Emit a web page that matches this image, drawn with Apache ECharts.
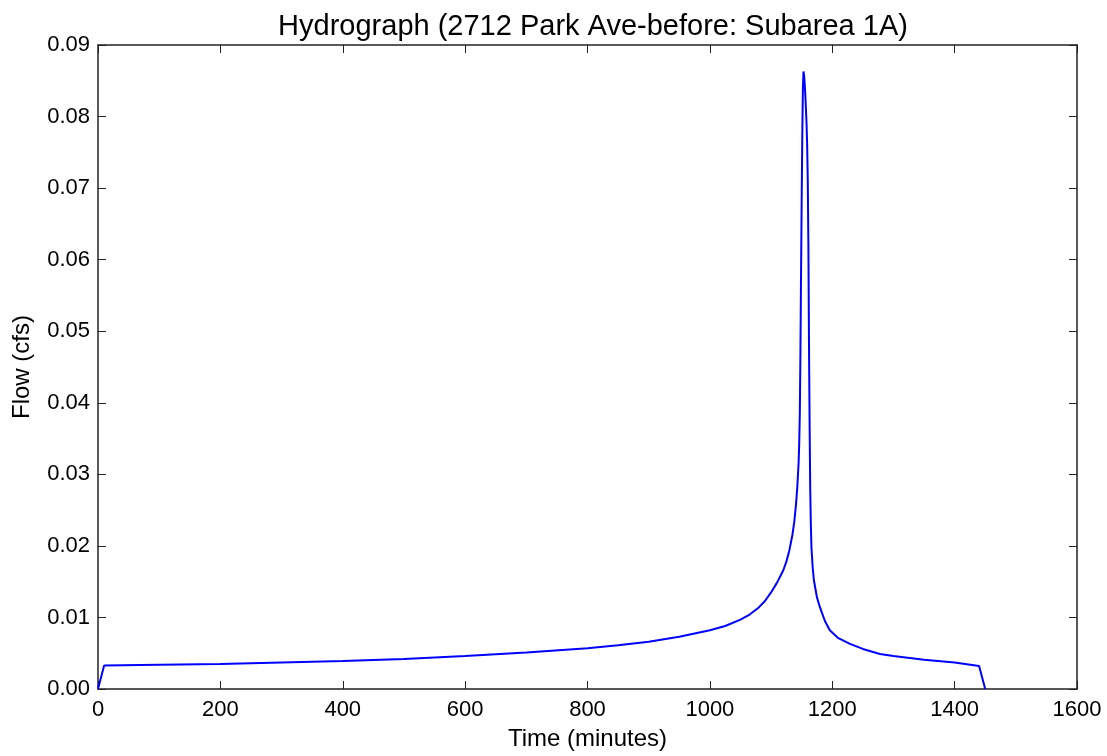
<!DOCTYPE html>
<html>
<head>
<meta charset="utf-8">
<script src="https://cdn.jsdelivr.net/npm/echarts@6/dist/echarts.min.js"></script>
<style>
html,body{margin:0;padding:0;background:#fff;}
#chart{width:1107px;height:756px;}
</style>
</head>
<body>
<div id="chart"></div>
<script>
var times = [0, 10, 100, 200, 300, 400, 500, 600, 700, 800, 850, 900, 950, 1000, 1025, 1050, 1065, 1080, 1090, 1100, 1110, 1120, 1125, 1130, 1135, 1138, 1141, 1143, 1145, 1146, 1147, 1148, 1149, 1150, 1151, 1152, 1153, 1154, 1155, 1156, 1158, 1159, 1160, 1161, 1162, 1163, 1164, 1165, 1166, 1168, 1170, 1175, 1180, 1188, 1196, 1210, 1229, 1250, 1278, 1300, 1350, 1400, 1440, 1450];
var flows = [0, 0.0033, 0.0034, 0.0035, 0.0037, 0.0039, 0.0042, 0.0046, 0.0051, 0.0057, 0.0061, 0.0066, 0.0073, 0.0082, 0.0088, 0.0097, 0.0104, 0.0114, 0.0123, 0.0135, 0.0149, 0.0166, 0.0178, 0.0194, 0.0216, 0.0234, 0.0260, 0.0284, 0.0316, 0.0342, 0.0385, 0.0470, 0.0580, 0.0680, 0.0770, 0.0840, 0.0863, 0.0858, 0.0845, 0.0830, 0.0790, 0.0760, 0.0710, 0.0620, 0.0480, 0.0370, 0.0280, 0.0230, 0.0198, 0.0170, 0.0152, 0.0128, 0.0114, 0.0095, 0.0082, 0.0071, 0.0063, 0.0056, 0.0049, 0.0046, 0.0041, 0.0037, 0.0032, 0];
var titleText = 'Hydrograph (2712 Park Ave-before: Subarea 1A)';
var xName = 'Time (minutes)';
var yName = 'Flow (cfs)';

var data = times.map(function (t, i) { return [t, flows[i]]; });
var font = 'Liberation Sans, Arial, sans-serif';
var axisLine = {show: true, onZero: false, lineStyle: {color: '#222', width: 1.5}};
var tick = {show: true, inside: true, length: 8, lineStyle: {color: '#222', width: 1}};

var chart = echarts.init(document.getElementById('chart'));
chart.setOption({
  animation: false,
  backgroundColor: '#fff',
  title: {
    text: titleText, left: 588, top: 7, textAlign: 'center',
    textStyle: {fontFamily: font, fontSize: 29, fontWeight: 'normal', color: '#000'}
  },
  grid: {left: 98, right: 30, top: 45, bottom: 64},
  xAxis: [{
    type: 'value', min: 0, max: 1600, interval: 200,
    name: xName, nameLocation: 'middle', nameGap: 38,
    nameTextStyle: {fontFamily: font, fontSize: 24, color: '#000'},
    axisLine: axisLine, axisTick: tick, splitLine: {show: false},
    axisLabel: {fontFamily: font, fontSize: 22, color: '#000', margin: 10,
      formatter: function (v) { return String(v); }}
  }, {
    type: 'value', min: 0, max: 1600, interval: 200, position: 'top',
    axisLine: axisLine, axisTick: tick, splitLine: {show: false},
    axisLabel: {show: false}
  }],
  yAxis: [{
    type: 'value', min: 0, max: 0.09, interval: 0.01,
    name: yName, nameLocation: 'middle', nameGap: 64,
    nameTextStyle: {fontFamily: font, fontSize: 24, color: '#000'},
    axisLine: axisLine, axisTick: tick, splitLine: {show: false},
    axisLabel: {fontFamily: font, fontSize: 22, color: '#000', margin: 8,
      formatter: function (v) { return v.toFixed(2); }}
  }, {
    type: 'value', min: 0, max: 0.09, interval: 0.01, position: 'right',
    axisLine: axisLine, axisTick: tick, splitLine: {show: false},
    axisLabel: {show: false}
  }],
  series: [{
    type: 'line', data: data, xAxisIndex: 0, yAxisIndex: 0,
    showSymbol: false, symbol: 'none', smooth: false,
    lineStyle: {color: '#0000ff', width: 2}
  }]
});
</script>
</body>
</html>
